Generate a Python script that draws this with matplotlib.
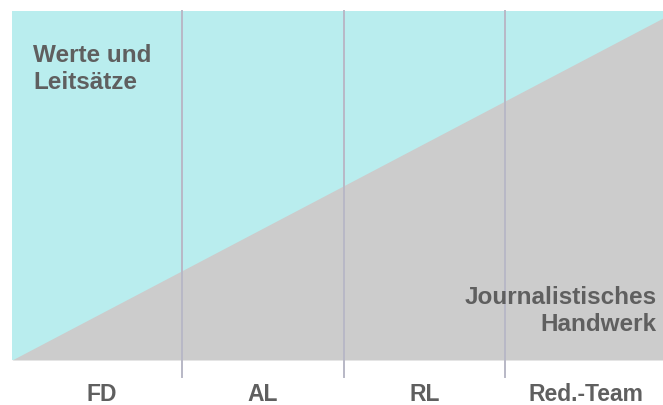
import matplotlib
matplotlib.use("Agg")
import matplotlib.pyplot as plt

categories = ["FD", "AL", "RL", "Red.-Team"]
boundary_y = [0.0, 0.98]
top_label = "Werte und\nLeitsätze"
bottom_label = "Journalistisches\nHandwerk"

cyan = "#b9edee"
gray = "#cccccc"
txt = "#5f5f5f"
line_c = "#b8b8c6"

plt.rcParams['font.family'] = ['Liberation Sans', 'DejaVu Sans']

fig = plt.figure(figsize=(6.63, 4.06), dpi=100)
H = 406
ax = fig.add_axes([12/663, (H-361)/H, 651/663, 349/H])
x0, x1 = -0.053, 3.978
ax.set_xlim(x0, x1)
ax.set_ylim(0, 1)
ax.axis('off')

ax.fill_between([x0, x1], 0, 1, color=cyan, lw=0, zorder=1)
ax.fill_between([x0, x1], 0, boundary_y, color=gray, lw=0, zorder=2)

for i in range(1, len(categories)):
    ax.plot([i, i], [1, -0.049], color=line_c, lw=1.4, clip_on=False, zorder=3)

for i, c in enumerate(categories):
    ax.text(i + 0.5, -0.097, c, ha='center', va='center', fontsize=16.5,
            fontweight='bold', color=txt)

ax.text(0.08, 0.836, top_label, ha='left', va='center', fontsize=17.5,
        fontweight='bold', color=txt, linespacing=1.2)
ax.text(3.94, 0.144, bottom_label, ha='right', va='center', fontsize=17.5,
        fontweight='bold', color=txt, linespacing=1.2)

fig.savefig("out.png", dpi=100)
